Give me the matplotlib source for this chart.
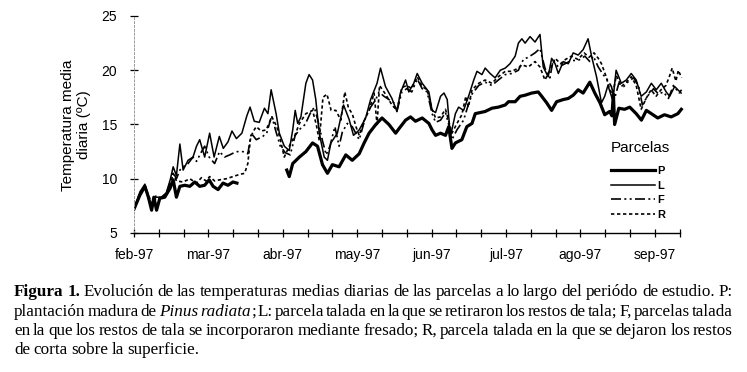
import numpy as np
import matplotlib
matplotlib.use('Agg')
import matplotlib.pyplot as plt

plt.rcParams['font.family'] = 'Liberation Sans'

# x axis: days since 1 Feb 1997, a tick every 10 days, a month label every 30
months = ['feb-97', 'mar-97', 'abr-97', 'may-97', 'jun-97', 'jul-97', 'ago-97', 'sep-97']

# daily mean temperature (ºC)
# P: plantación madura (no data between early March and early April)
p_day = [0, 2.4, 4.4, 5.8, 7.1, 8, 9.1, 10.4, 12.4, 14.5, 15.8, 17.1, 18.5, 20.5, 22.5,
         24.5, 26.5, 28.5, 30.3, 31.9, 33.9, 35.9, 37.9, 39.9, 41.5, 50,
         61.6, 62.6, 64, 66.7, 69.3, 72, 74, 76, 78, 80, 82.7, 85.4, 88, 90.8, 92.8,
         94.8, 97.5, 100, 102.8, 105.5, 106.8, 109.5, 111.5, 113.5, 116.2, 118.9, 120.2,
         121.6, 123.6, 125.6, 126.9, 128.2, 129.6, 132.2, 134.2, 136.3, 137.6, 141.6,
         144.3, 146.9, 149.7, 151, 153.7, 155.7, 157.7, 160.4, 163, 164.4, 166.4, 168.4,
         170.4, 173.1, 175.1, 177.1, 179.1, 181.1, 183.8, 185.8, 187.9, 189.8, 191.8,
         192.7, 193.3, 193.8, 195.5, 197.8, 199.9, 202.5, 204.6, 206.6, 208.6, 211.2,
         213.9, 216.6, 219.3, 220.7]
p_temp = [7.2, 8.5, 9.3, 8.3, 7.1, 8.3, 7.1, 8.2, 8.3, 9.1, 9.9, 8.3, 9.3, 9.4, 9.3,
          9.7, 9.3, 9.4, 9.9, 9.3, 9.0, 9.6, 9.4, 9.7, 9.6, np.nan,
          10.8, 10.2, 11.4, 12.0, 12.5, 13.3, 13.0, 11.3, 10.5, 11.3, 11.1, 12.2, 11.7, 12.3, 13.3,
          14.2, 15.0, 15.6, 15.0, 14.2, 14.6, 15.4, 15.7, 15.3, 15.6, 15.1, 14.5,
          14.0, 14.2, 14.0, 14.8, 12.8, 13.3, 13.6, 14.8, 15.1, 16.0, 16.2,
          16.5, 16.6, 16.8, 17.1, 17.1, 17.6, 17.7, 17.9, 18.0, 17.6, 17.0, 16.3,
          17.1, 17.3, 17.4, 17.7, 18.2, 17.9, 18.9, 17.9, 17.0, 15.9, 16.2,
          15.8, 17.8, 15.0, 16.5, 16.4, 16.6, 16.0, 15.4, 16.3, 16.0, 15.6,
          15.9, 15.7, 16.0, 16.4]

# L: talada, restos retirados
l_day = [0, 2.4, 4.4, 6, 7.4, 8.8, 11, 13, 14.6, 15.8, 17.1, 18.5, 19.8, 21.8, 23.8,
         25.2, 26.5, 28.5, 30.5, 32.3, 34.4, 36, 37.9, 39.5, 41.3, 43.5, 45.5, 46.8,
         48.5, 50.5, 52.6, 54, 55.3, 57.3, 58.6, 60.6, 62.6, 64, 65, 66, 67.3, 69.3,
         70.6, 72, 73.3, 74.7, 76.7, 78, 79.4, 82, 84.5, 86.7, 88.5, 90.8, 93.4, 95.4,
         98, 99.4, 101.4, 104, 106, 107.4, 109.5, 110.8, 112.8, 114.2, 116.2, 118.9,
         120.2, 121.6, 123.6, 125, 126.3, 127.6, 129.6, 130.9, 132.9, 134.9, 137,
         138.3, 140.3, 141.6, 143.6, 145.6, 147.7, 149.7, 151.6, 153.7, 155, 156.4,
         157.7, 159.7, 161.7, 163.7, 165, 167, 168.4, 169.8, 171.1, 173.1, 175.1,
         177.1, 179.1, 181.1, 183.1, 184.5, 186.5, 188.5, 189.8, 191.1, 193.1, 194.4,
         196.5, 198.5, 200.5, 202.5, 204.5, 206.6, 208.6, 210.6, 212.6, 214.6, 216,
         218, 220.6]
l_temp = [7.2, 8.8, 9.5, 8.0, 7.6, 8.3, 8.3, 8.7, 9.9, 11.1, 10.3, 13.2, 10.8, 11.7, 12.0,
          13.0, 13.6, 12.0, 14.2, 12.0, 13.9, 12.8, 13.4, 14.4, 13.7, 14.2, 15.8, 16.6,
          15.3, 15.2, 16.5, 16.0, 18.2, 16.0, 14.2, 13.0, 12.6, 14.5, 16.3, 15.1, 15.7, 18.8,
          19.6, 19.1, 17.3, 14.2, 12.0, 11.7, 13.3, 14.2, 16.8, 15.5, 14.0, 14.5, 15.6, 17.3,
          18.8, 20.2, 18.5, 17.4, 16.2, 17.9, 19.1, 18.0, 18.8, 19.7, 18.8, 18.0,
          16.3, 16.1, 17.6, 17.9, 17.3, 13.9, 16.0, 16.6, 16.3, 17.6, 19.1,
          19.9, 19.6, 20.2, 19.7, 19.3, 20.0, 20.2, 20.6, 21.3, 22.5, 22.9,
          22.5, 23.1, 22.6, 23.3, 20.3, 19.4, 21.1, 20.6, 19.7, 20.8, 20.6,
          21.6, 21.4, 21.9, 22.9, 21.3, 19.4, 17.0, 17.6, 18.6, 17.2, 20.0,
          18.8, 19.1, 19.7, 19.1, 17.6, 18.0, 18.8, 18.2, 18.8, 18.0, 17.6,
          18.5, 17.9]

# F: talada, restos incorporados (fresado)
f_day = [0, 2.4, 4.4, 6, 7.4, 8.8, 11, 13, 14.6, 15.8, 17.1, 18.5, 19.8, 21.8, 23.8,
         25.2, 27, 28.5, 30.3, 32.5, 34.5, 36.5, 38.6, 41.2, 43.9, 45.9, 47.3, 49.3,
         51.9, 53.5, 55.5, 57.3, 59, 61, 63, 65, 67, 69, 71, 72.7, 74, 76, 77.5, 79,
         81, 82.7, 84, 86, 88, 90.8, 93.4, 95.4, 97.5, 98.8, 100.8, 102.8, 104.8, 106,
         108, 110, 112, 114.2, 116.2, 118.2, 120.2, 121.6, 123.6, 125.6, 126.9, 128.2,
         130.2, 132.9, 134.5, 136.3, 139, 141.6, 144.3, 146.9, 149.7, 152.3, 155, 157,
         159, 161.7, 163.7, 165.7, 167.7, 169, 171.1, 173.8, 176.4, 179.1, 181.8,
         183.8, 185.2, 187.2, 189.2, 191.2, 192.5, 193.8, 195.5, 197.5, 199.5, 201.5,
         203.5, 205, 207, 209.5, 211.5, 213.5, 215.5, 217.5, 219.8, 220.8]
f_temp = [7.2, 8.6, 9.4, 8.2, 7.4, 8.2, 8.2, 8.6, 9.6, 10.6, 10.0, 10.8, 11.1, 11.4, 12.0,
          11.6, 12.4, 13.0, 12.0, 11.4, 12.5, 12.0, 12.2, 12.5, 12.5, 12.3, 14.2, 13.6,
          13.9, 14.2, 15.8, 14.3, 13.0, 12.4, 12.2, 14.0, 14.6, 15.0, 16.0, 16.6, 15.5, 13.5, 12.2, 13.0,
          14.8, 13.0, 14.3, 15.1, 14.8, 13.6, 15.7, 16.6, 17.3, 18.0, 17.6, 17.3, 17.0, 16.2,
          18.0, 18.3, 18.0, 19.2, 18.3, 18.0, 16.0, 15.2, 15.4, 16.1, 15.0, 13.6,
          14.5, 15.4, 16.6, 17.8, 18.6, 18.9, 18.6, 19.1, 19.6, 19.7, 20.0, 21.0,
          21.2, 21.6, 22.0, 20.2, 19.3, 20.9, 20.3, 20.6, 20.9, 20.9, 21.3,
          20.8, 21.3, 20.3, 19.6, 19.0, 18.5, 17.4, 18.8, 18.5, 19.0, 19.3,
          18.5, 16.8, 17.6, 18.3, 17.8, 18.0, 17.4, 18.6, 17.9, 18.2]

# R: talada, restos dejados en superficie
r_day = [0, 2.4, 4.4, 6, 7.4, 8.8, 11, 13, 14.6, 15.8, 17.1, 19.8, 22.5, 25.2, 27.2,
         29, 30.5, 32.5, 34.5, 37.2, 39.9, 42.6, 44.6, 45.9, 46.9, 47.9, 49.3, 51.3,
         53.3, 55.6, 57.6, 59, 60.6, 62.6, 64.7, 66.7, 69.3, 72, 73.5, 74.7, 76.2,
         77.8, 79.5, 81.4, 83.4, 85, 86.5, 88, 89.5, 90.8, 92.5, 94.8, 96.8, 98, 99,
         101.4, 104, 106, 108, 110, 112, 114.2, 116.2, 118.2, 120.2, 121.6, 123.6,
         125.6, 126.9, 128.2, 130, 132.2, 133.8, 134.8, 136.3, 139, 141.6, 144.3,
         146.9, 149.7, 152.3, 155, 156.4, 159, 161.7, 163.7, 165.7, 167.7, 169.8, 172,
         174, 176.4, 179, 181.5, 183.5, 185.5, 187.2, 188.5, 190.4, 191.8, 193, 194.5,
         196.5, 198.5, 200.5, 202.5, 204.5, 206.5, 208.5, 210.5, 212.5, 214.5, 216,
         217, 218.5, 219.5, 220.8]
r_temp = [7.2, 8.7, 9.3, 8.4, 7.5, 8.4, 8.2, 8.6, 9.4, 10.5, 9.8, 9.7, 10.0, 9.6, 10.1,
          9.8, 10.2, 9.8, 9.9, 10.0, 10.2, 10.4, 10.5, 11.4, 13.6, 14.3, 14.8, 14.4,
          14.5, 15.7, 14.8, 13.6, 12.0, 13.0, 13.9, 15.1, 16.0, 16.3, 15.0, 13.5, 17.5,
          17.8, 16.3, 16.3, 15.4, 18.0, 16.5, 16.0, 14.8, 14.0, 15.2, 16.3, 17.9, 15.0, 18.6,
          17.8, 16.8, 16.3, 18.4, 18.6, 18.3, 19.4, 18.5, 18.2, 16.4, 15.6, 15.7,
          16.4, 15.3, 14.2, 15.0, 15.9, 17.6, 16.6, 18.2, 18.8, 19.1, 18.8,
          19.4, 19.9, 19.9, 20.2, 20.5, 20.3, 20.8, 20.3, 19.1, 20.0, 21.1, 20.6,
          21.0, 21.3, 21.0, 21.6, 21.2, 21.6, 21.1, 20.6, 19.4, 18.2, 17.8, 19.5,
          18.5, 18.9, 19.4, 18.6, 16.4, 17.4, 18.2, 17.6, 18.2, 18.6, 19.5,
          20.2, 19.0, 20.0, 19.3]

caption = [
    "Figura 1. Evolución de las temperaturas medias diarias de las parcelas a lo largo del periódo de estudio. P:",
    "plantación madura de Pinus radiata; L: parcela talada en la que se retiraron los restos de tala; F, parcelas talada",
    "en la que los restos de tala se incorporaron mediante fresado; R, parcela talada en la que se dejaron los restos",
    "de corta sobre la superficie.",
]

W, H = 747, 372
PX_PER_DAY = 2.48
fig = plt.figure(figsize=(W / 100, H / 100), dpi=100)
ax = fig.add_axes([134 / W, 1 - 233 / H, 224 * PX_PER_DAY / W, 217 / H])

ax.plot(p_day, p_temp, color='k', lw=2.3, label='P')
ax.plot(l_day, l_temp, color='k', lw=1.1, label='L')
ax.plot(f_day, f_temp, color='k', lw=1.2, ls=(0, (6, 2, 1.2, 2, 1.2, 2)), label='F')
ax.plot(r_day, r_temp, color='k', lw=1.2, ls=(0, (2, 1.6)), label='R')

ax.set_xlim(0, 224)
ax.set_ylim(5, 25)
ax.set_yticks([5, 10, 15, 20, 25])
ticks = np.arange(0, 221, 10)
labels = [''] * len(ticks)
for i, m in enumerate(months):
    labels[3 * i] = m
ax.set_xticks(ticks)
ax.set_xticklabels(labels)
ax.tick_params(axis='x', direction='inout', length=6, width=0.9, pad=8, labelsize=10)
ax.tick_params(axis='y', direction='inout', length=6, width=0.9, pad=9, labelsize=10)

for s in ['top', 'right']:
    ax.spines[s].set_visible(False)
ax.spines['bottom'].set_bounds(0, 220)
ax.spines['bottom'].set_linewidth(1.0)
ax.spines['left'].set_color('#999999')
ax.spines['left'].set_linewidth(0.7)
ax.spines['left'].set_linestyle((0, (2, 2)))

fig.text(76 / W, 1 - 125 / H, 'Temperatura media\ndiaria (ºC)', rotation=90,
         ha='center', va='center', multialignment='center', fontsize=11)

# legend: title as its own text so the gap below it matches
fig.text(611 / W, 1 - 148 / H, 'Parcelas', ha='left', va='center', fontsize=11)
ax.legend(loc='upper left', bbox_to_anchor=(611 / W, 1 - 166 / H),
          bbox_transform=fig.transFigure, frameon=False,
          prop={'size': 8, 'weight': 'bold'},
          handlelength=4.0, handletextpad=0.15, labelspacing=0.42,
          borderpad=0, borderaxespad=0)

# caption, justified word by word
renderer = fig.canvas.get_renderer()
left, right = 14, 733
for row, line in enumerate(caption):
    y = 1 - (296 + 19.5 * row) / H
    items = []
    for k, word in enumerate(line.split()):
        weight = 'bold' if (row == 0 and k < 2) else 'normal'
        parts = [(word, 'normal', False)]
        core = word.rstrip(';')
        if core in ('Pinus', 'radiata'):
            parts = [(core, 'italic', False)]
            if word != core:
                parts.append((word[len(core):], 'normal', True))
        for txt, style, glued in parts:
            t = fig.text(0, y, txt, family='Liberation Serif', fontsize=12.3,
                         weight=weight, style=style, va='baseline', ha='left')
            w = t.get_window_extent(renderer).width
            items.append((t, w, glued))
    total = sum(w for _, w, _ in items)
    ngaps = sum(1 for i, (_, _, g) in enumerate(items) if i > 0 and not g)
    if row < len(caption) - 1:
        gap = (right - left - total) / ngaps
    else:
        gap = 3.5
    x = left
    for i, (t, w, glued) in enumerate(items):
        if i > 0 and not glued:
            x += gap
        t.set_x(x / W)
        x += w

fig.savefig('out.png', dpi=100)
